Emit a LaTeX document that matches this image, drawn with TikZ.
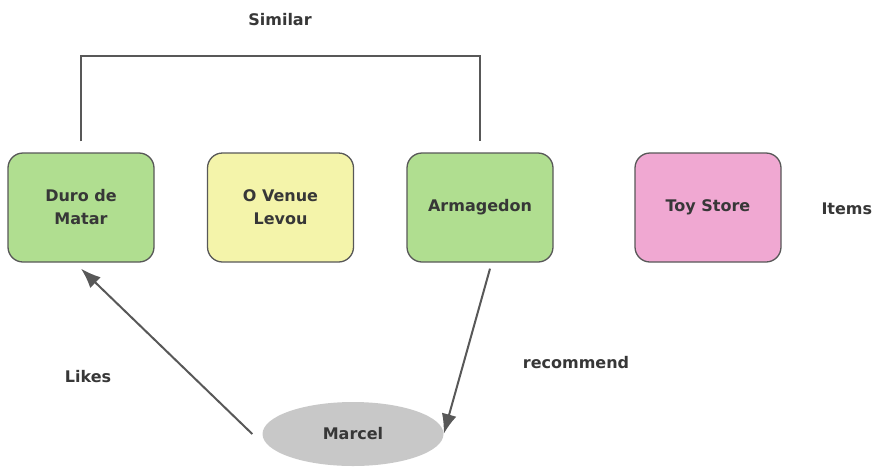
\documentclass[tikz,border=0pt]{standalone}
\usepackage{fontspec}
\setsansfont{DejaVu Sans}
\usetikzlibrary{arrows.meta,shapes.geometric}

\begin{document}
\begin{tikzpicture}[x=1pt,y=-1pt,
 font=\sffamily\bfseries\fontsize{16}{23}\selectfont,
 txt/.style={text=txtgray},
 item/.style={draw=edge,line width=1.3pt,rounded corners=15pt,minimum width=146pt,
  minimum height=109pt,align=center,text=txtgray,inner sep=0pt},
 rel/.style={draw=edge,line width=2pt},
 tip/.style={-{Latex[length=20pt,width=15pt]}}]
\definecolor{edge}{RGB}{88,88,88}
\definecolor{txtgray}{RGB}{55,55,55}
\definecolor{green}{RGB}{176,222,144}
\definecolor{cream}{RGB}{244,244,170}
\definecolor{pink}{RGB}{240,168,210}
\definecolor{user}{RGB}{200,200,200}
\useasboundingbox (0,0) rectangle (885,467);
% item row
\node[item,fill=green] (duro) at (81,207.5) {Duro de\\Matar};
\node[item,fill=cream] (venue) at (280.5,207.5) {O Venue\\Levou};
\node[item,fill=green] (arma) at (480,207.5) {Armagedon};
\node[item,fill=pink] (toy) at (708,207.5) {Toy Store};
\node[txt,anchor=west] (items) at (818,209) {Items};
% similarity bracket over the first and third item
\node[txt] (similar) at (280,20) {Similar};
\draw[rel] ([yshift=11pt]duro.north) -- ++(0,-85) -| ([yshift=11pt]arma.north);
% user and its relations
\node[ellipse,fill=user,minimum width=181pt,minimum height=64pt,inner sep=0pt,
 text=txtgray] (marcel) at (353,434) {Marcel};
\draw[rel,tip] ([xshift=-10pt]marcel.west) -- ([yshift=-6pt]duro.south);
\draw[rel,tip] ([xshift=10pt,yshift=-6pt]arma.south) -- (marcel.east);
\node[txt] (likes) at (88,377) {Likes};
\node[txt] (recommend) at (576,363) {recommend};
\end{tikzpicture}
\end{document}
